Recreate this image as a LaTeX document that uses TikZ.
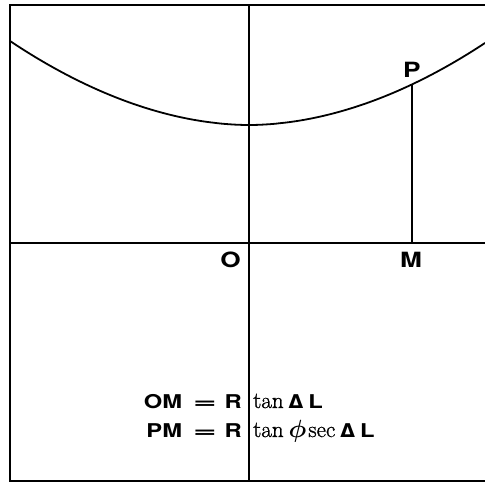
\documentclass[tikz,border=0pt]{standalone}
\usepackage{bm}
\usepackage{fontspec}
\usepackage{graphicx}
\newfontfamily\hv{TeX Gyre Heros}
\newfontfamily\dv{DejaVu Sans}
\newfontfamily\srf[FakeBold=1.2]{Latin Modern Roman}
\newcommand{\sanslab}[2]{{\hv\bfseries\fontsize{#1}{#1}\selectfont\scalebox{1.25}[1]{#2}}}
\newcommand{\bigdelta}{{\dv\bfseries\fontsize{19}{19}\selectfont Δ}}
\begin{document}
\begin{tikzpicture}[x=1pt,y=-1pt,
  ln/.style={line width=1.8pt},
  lab/.style={inner sep=0pt},
  formula/.style={inner sep=0pt}]
\useasboundingbox (0,0) rectangle (485,482);
% frame
\draw[ln] (485,5) -- (10,5) -- (10,481) -- (485,481);
% axes
\coordinate (L) at (10,243);
\coordinate (Rt) at (485,243);
\coordinate (Top) at (249,5);
\coordinate (Bot) at (249,481);
\coordinate (O) at (249,243);
\coordinate (M) at (412,243);
\coordinate (P) at (412,84.4);
\draw[ln] (L) -- (Rt);
\draw[ln] (Top) -- (Bot);
\draw[ln] (M) -- (P);
% curve
\draw[ln] plot[domain=10:485, samples=96, smooth] (\x, {125-84*pow(abs(\x-249)/239,1.9)});
% labels
\node[lab, anchor=base east] (labO) at (241,267) {\sanslab{21}{O}};
\node[lab, anchor=base] (labM) at (411,267) {\sanslab{21}{M}};
\node[lab, anchor=base] (labP) at (412,77) {\sanslab{21}{P}};
% formula
\node[formula, anchor=base east] (f1l) at (242,408) {\sanslab{19}{OM}\hspace{11pt}\scalebox{1.7}[1]{\sanslab{19}{=}}\hspace{8pt}\sanslab{19}{R}};
\node[formula, anchor=base east] (f2l) at (242,437) {\sanslab{19}{PM}\hspace{11pt}\scalebox{1.7}[1]{\sanslab{19}{=}}\hspace{8pt}\sanslab{19}{R}};
\node[formula, anchor=base west] (f1r) at (253,408) {\srf\fontsize{23}{23}\selectfont tan\hspace{5pt}\bigdelta\hspace{5pt}\sanslab{19}{L}};
\node[formula, anchor=base west] (f2r) at (253,437) {\srf\fontsize{23}{23}\selectfont tan\hspace{5pt}$\bm{\phi}$\hspace{2pt}sec\hspace{5pt}\bigdelta\hspace{5pt}\sanslab{19}{L}};
\end{tikzpicture}
\end{document}
